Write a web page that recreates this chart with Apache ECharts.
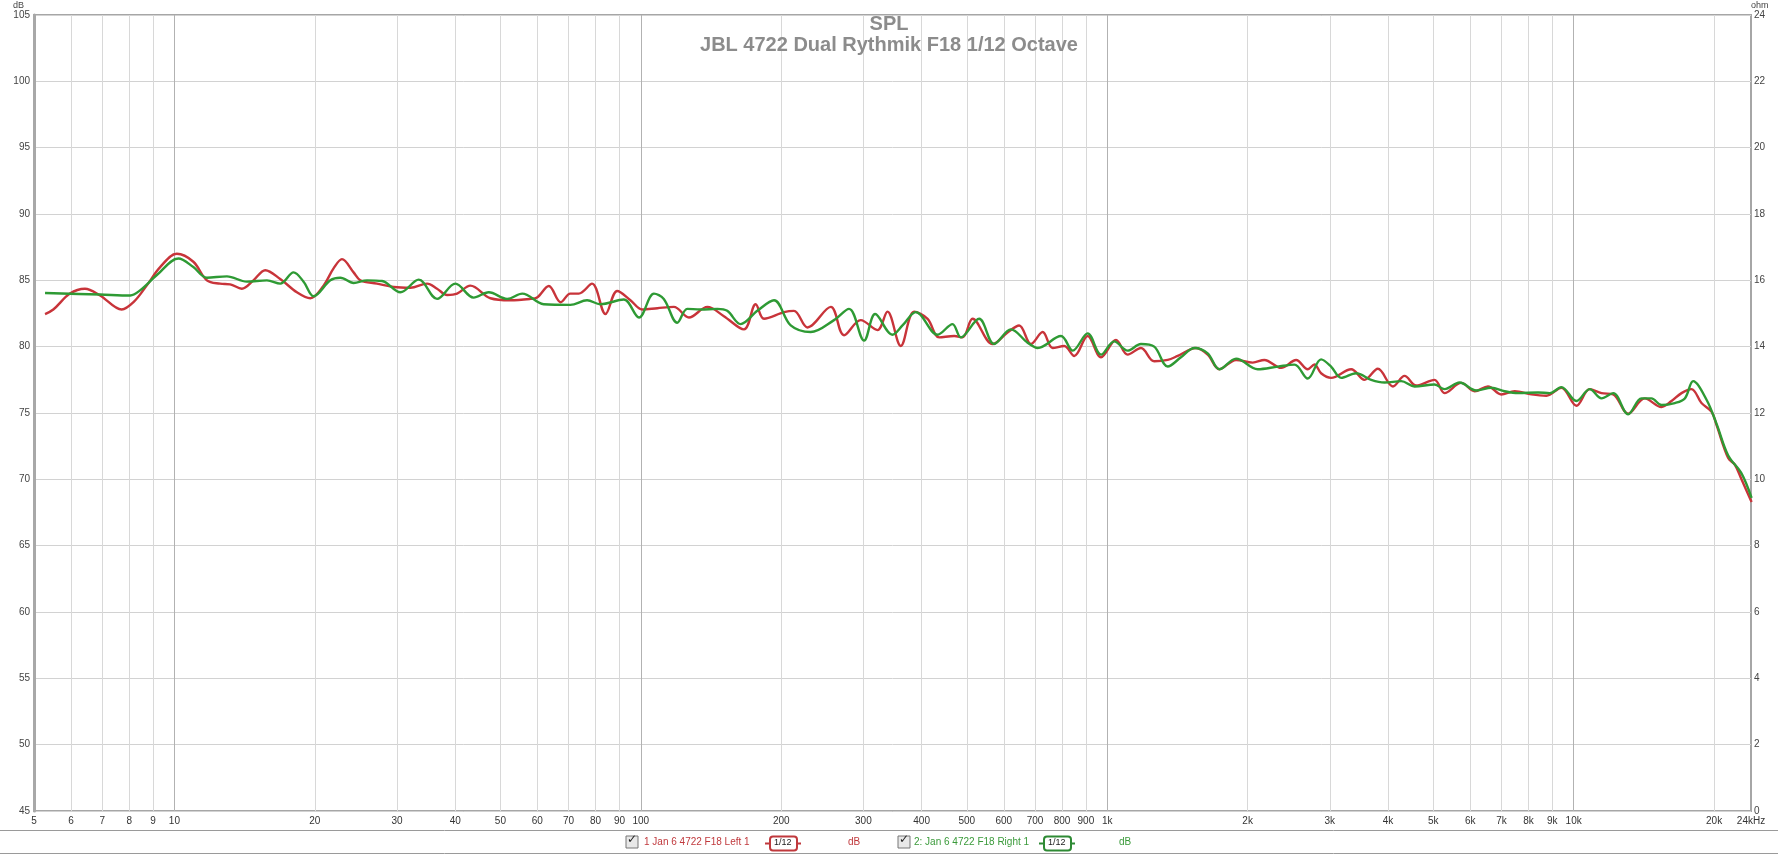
<!DOCTYPE html>
<html>
<head>
<meta charset="utf-8">
<script src="https://cdn.jsdelivr.net/npm/echarts@6/dist/echarts.min.js"></script>
<style>
html,body{margin:0;padding:0;background:#fff;}
#chart{width:1778px;height:855px;}
</style>
</head>
<body>
<div id="chart"></div>
<script>
// ---- Data (frequency in Hz, level in dB) ----
const leftFreq = [5.28,5.50,5.97,6.43,6.93,7.71,8.17,8.72,9.32,10.12,10.98,11.74,12.53,13.17,13.95,14.77,15.66,16.86,18.31,19.56,20.88,21.94,22.87,24.22,25.04,27.19,29.51,32.06,34.81,36.57,38.43,40.37,43.1,47.6,52.5,58.0,59.9,63.5,67.3,70.6,73.6,78.6,84.0,89.0,95.0,100.7,108.5,117.7,126.8,138.9,150.7,166.4,176.3,183.7,202.8,213.0,227.6,255.4,272.7,296.1,321.6,337.9,360.9,385.5,411.9,436.2,469.8,489.6,514.4,567.7,611.3,647.4,686.1,727,763.8,808.8,849.9,907.8,969.8,1044,1106,1181,1261,1348,1416,1550,1642,1739,1889,2051,2172,2359,2541,2691,2781,2874,3019,3334,3561,3804,4097,4340,4596,5032,5286,5742,6133,6551,6995,7473,8116,8741,9412,10137,10826,11474,12155,13088,14203,15429,16209,17030,17890,18795,19748,20240,21445,22170,22900,24070];
const leftDb = [82.46,82.8,84.0,84.37,83.86,82.8,83.35,84.6,86.0,87.0,86.4,85.0,84.75,84.7,84.37,85.0,85.76,85.1,84.1,83.65,84.6,85.9,86.6,85.6,85.0,84.75,84.5,84.44,84.75,84.37,83.9,84.0,84.6,83.65,83.5,83.6,83.7,84.57,83.35,84.0,84.0,84.75,82.46,84.2,83.5,82.8,82.9,83.0,82.2,83.0,82.3,81.3,83.2,82.1,82.6,82.7,81.45,83.0,80.86,82.0,81.25,82.64,80.05,82.64,82.1,80.7,80.8,80.7,82.1,80.2,81.07,81.6,80.2,81.1,79.9,80.05,79.3,80.8,79.2,80.5,79.4,79.9,78.9,79.0,79.3,79.9,79.4,78.3,79.0,78.8,79.0,78.4,79.0,78.3,78.66,78.0,77.65,78.3,77.5,78.33,77.0,77.8,77.07,77.5,76.5,77.27,76.64,77.0,76.4,76.64,76.4,76.3,76.9,75.55,76.8,76.5,76.4,74.95,76.1,75.45,75.9,76.5,76.8,75.75,75.1,74.1,71.6,71.1,70.0,68.3];
const rightFreq = [5.28,6.93,8.04,8.44,9.17,10.20,10.98,11.74,12.96,14.30,15.79,16.86,18.01,18.92,19.88,21.59,22.68,24.22,25.88,27.87,30.51,33.40,36.57,40.03,43.8,47.2,51.7,55.7,61.9,70.6,76.7,81.9,91.9,99.1,106.7,112.0,119.7,125.8,134.3,145.9,153.2,163.7,177.7,193.0,209.6,231.3,259.5,279.5,301.1,318,346.3,363.9,388.7,432.7,465.9,485.2,531.3,572.2,621.5,674.9,709.2,795.9,843.3,907.8,969.8,1035,1106,1181,1261,1348,1439,1538,1642,1739,1889,2102,2321,2520,2691,2874,3019,3174,3418,3681,3932,4268,4558,5032,5286,5694,6184,6661,7111,7598,8389,8882,9412,10137,10826,11474,12155,13088,13975,14680,15429,16477,17310,18040,19270,20240,21445,22900,24070];
const rightDb = [84.04,83.93,83.86,84.24,85.4,86.65,86.0,85.2,85.3,84.9,85.0,84.75,85.6,84.9,83.8,85.0,85.2,84.8,85.0,84.95,84.1,85.05,83.6,84.75,83.7,84.1,83.6,84.0,83.2,83.15,83.5,83.2,83.55,82.2,84.0,83.6,81.8,82.85,82.8,82.85,82.7,81.7,82.7,83.5,81.6,81.1,82.0,82.85,80.46,82.46,80.9,81.6,82.6,80.9,81.7,80.7,82.1,80.2,81.3,80.3,79.9,80.8,79.7,81.0,79.4,80.4,79.7,80.2,80.0,78.5,79.2,79.9,79.5,78.3,79.1,78.3,78.5,78.65,77.6,79.04,78.5,77.65,78.0,77.5,77.3,77.4,77.0,77.15,76.8,77.3,76.7,76.9,76.64,76.5,76.55,76.5,76.95,75.9,76.8,76.1,76.5,74.9,76.1,76.1,75.6,75.75,76.1,77.4,76.0,74.2,71.8,70.45,68.6];

// ---- Axis ticks ----
const xTickValues = [5,6,7,8,9,10,20,30,40,50,60,70,80,90,100,200,300,400,500,600,700,800,900,1000,2000,3000,4000,5000,6000,7000,8000,9000,10000,20000,24000];
const xTickLabels = ['5','6','7','8','9','10','20','30','40','50','60','70','80','90','100','200','300','400','500','600','700','800','900','1k','2k','3k','4k','5k','6k','7k','8k','9k','10k','20k','24kHz'];
const xMajorTicks = [10,100,1000,10000];

const seriesNames = ['1 Jan 6 4722 F18 Left 1','2: Jan 6 4722 F18 Right 1'];
const FONT = 'Liberation Sans, Arial, sans-serif';

const chart = echarts.init(document.getElementById('chart'));

const gridMarks = xTickValues.map((v, i) => {
  const isEdge = (i === 0 || i === xTickValues.length - 1);
  const isMajor = xMajorTicks.indexOf(v) >= 0;
  return {
    xAxis: v,
    name: xTickLabels[i],
    lineStyle: {
      color: isEdge ? 'rgba(0,0,0,0)' : (isMajor ? '#b2b2b2' : '#d8d8d8'),
      width: 1,
      type: 'solid'
    }
  };
});

const leftData = leftFreq.map((f, i) => [f, leftDb[i]]);
const rightData = rightFreq.map((f, i) => [f, rightDb[i]]);

chart.setOption({
  animation: false,
  backgroundColor: '#ffffff',
  textStyle: {fontFamily: FONT},
  title: [
    {text: 'SPL', left: 'center', top: 14, padding: 0,
     textStyle: {fontSize: 20, fontWeight: 'bold', color: '#8c8c8c', fontFamily: FONT}},
    {text: 'JBL 4722 Dual Rythmik F18 1/12 Octave', left: 'center', top: 35, padding: 0,
     textStyle: {fontSize: 20, fontWeight: 'bold', color: '#8c8c8c', fontFamily: FONT}}
  ],
  grid: {left: 34, right: 27, top: 15, bottom: 44, show: true, borderColor: '#a6a6a6', borderWidth: 2, backgroundColor: 'transparent'},
  xAxis: {
    type: 'log', logBase: 10, min: 5, max: 24000,
    axisLabel: {show: false}, axisTick: {show: false}, axisLine: {show: false},
    splitLine: {show: false}
  },
  yAxis: [
    {
      type: 'value', min: 45, max: 105, interval: 5, position: 'left',
      name: 'dB', nameLocation: 'end', nameGap: 5,
      nameTextStyle: {fontSize: 9, color: '#444', align: 'right', padding: [0, 10, 0, 0], fontFamily: FONT},
      axisLine: {show: true, lineStyle: {color: '#a8a8a8', width: 3}},
      axisTick: {show: false},
      axisLabel: {fontSize: 10, color: '#444', margin: 4, fontFamily: FONT},
      splitLine: {show: true, lineStyle: {color: '#d2d2d2', width: 1}}
    },
    {
      type: 'value', min: 0, max: 24, interval: 2, position: 'right',
      name: 'ohm', nameLocation: 'end', nameGap: 5,
      nameTextStyle: {fontSize: 9, color: '#444', align: 'left', padding: [0, 0, 0, 0], fontFamily: FONT},
      axisLine: {show: false}, axisTick: {show: false},
      axisLabel: {fontSize: 10, color: '#444', margin: 3, fontFamily: FONT},
      splitLine: {show: false}
    }
  ],
  series: [
    {
      name: 'grid', type: 'line', data: [], silent: true, clip: false,
      markLine: {
        silent: true, symbol: ['none', 'none'], animation: false, z: 1,
        label: {show: true, position: 'start', formatter: p => p.name, color: '#333', fontSize: 10, distance: 5, fontFamily: FONT},
        data: gridMarks
      }
    },
    {
      name: seriesNames[0], type: 'line', data: leftData, showSymbol: false, smooth: 0.35,
      lineStyle: {color: '#c8343a', width: 2.4}, z: 3
    },
    {
      name: seriesNames[1], type: 'line', data: rightData, showSymbol: false, smooth: 0.35,
      lineStyle: {color: '#2e9a34', width: 2.4}, z: 4
    }
  ],
  graphic: [
    {type: 'line', shape: {x1: 0, y1: 830.5, x2: 1778, y2: 830.5}, style: {stroke: '#9a9a9a', lineWidth: 1}},
    {type: 'line', shape: {x1: 0, y1: 853.5, x2: 1778, y2: 853.5}, style: {stroke: '#9a9a9a', lineWidth: 1}},
    // legend entry 1
    {type: 'rect', shape: {x: 626, y: 836, width: 12, height: 12}, style: {fill: '#e8e8e8', stroke: '#777', lineWidth: 1}},
    {type: 'text', x: 627, y: 834, style: {text: '✓', font: 'bold 12px DejaVu Sans', fill: '#222'}},
    {type: 'text', x: 644, y: 837, style: {text: seriesNames[0], font: '10px ' + FONT, fill: '#c0393d'}},
    {type: 'line', shape: {x1: 765, y1: 843.5, x2: 801, y2: 843.5}, style: {stroke: '#c0393d', lineWidth: 2}},
    {type: 'rect', shape: {x: 770, y: 836.5, width: 27, height: 14, r: 3}, style: {fill: '#fff', stroke: '#c0393d', lineWidth: 2}},
    {type: 'text', x: 774, y: 838, style: {text: '1/12', font: '9px ' + FONT, fill: '#222'}},
    {type: 'text', x: 848, y: 837, style: {text: 'dB', font: '10px ' + FONT, fill: '#c0393d'}},
    // legend entry 2
    {type: 'rect', shape: {x: 898, y: 836, width: 12, height: 12}, style: {fill: '#e8e8e8', stroke: '#777', lineWidth: 1}},
    {type: 'text', x: 899, y: 834, style: {text: '✓', font: 'bold 12px DejaVu Sans', fill: '#222'}},
    {type: 'text', x: 914, y: 837, style: {text: seriesNames[1], font: '10px ' + FONT, fill: '#3a9a3a'}},
    {type: 'line', shape: {x1: 1039, y1: 843.5, x2: 1075, y2: 843.5}, style: {stroke: '#2e8a34', lineWidth: 2}},
    {type: 'rect', shape: {x: 1044, y: 836.5, width: 27, height: 14, r: 3}, style: {fill: '#fff', stroke: '#2e8a34', lineWidth: 2}},
    {type: 'text', x: 1048, y: 838, style: {text: '1/12', font: '9px ' + FONT, fill: '#222'}},
    {type: 'text', x: 1119, y: 837, style: {text: 'dB', font: '10px ' + FONT, fill: '#3a9a3a'}}
  ]
});
</script>
</body>
</html>
